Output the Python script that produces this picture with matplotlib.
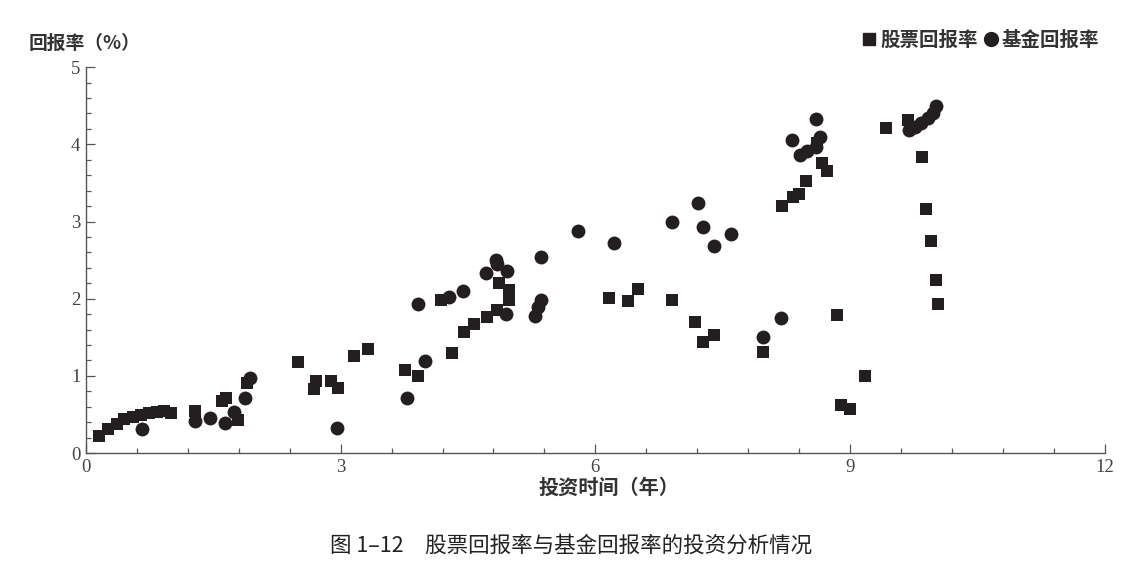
import matplotlib
matplotlib.use("Agg")
import matplotlib.pyplot as plt
from matplotlib.ticker import MultipleLocator
from matplotlib.lines import Line2D

plt.rcParams['font.family'] = ['Noto Sans CJK SC', 'DejaVu Sans']

# 股票回报率 (squares)
stock_x = [0.15, 0.26, 0.37, 0.45, 0.55, 0.65, 0.74, 0.84, 0.92, 1.0,
           1.28, 1.6, 1.65, 1.79, 1.9,
           2.5, 2.71, 2.69, 2.89, 2.97, 3.16, 3.32,
           3.76, 3.91, 4.31, 4.18, 4.45, 4.57, 4.72, 4.84, 4.86, 4.98, 4.98,
           6.16, 6.38, 6.5, 6.9, 7.17, 7.27, 7.4,
           7.97, 8.2, 8.33, 8.4, 8.48, 8.61, 8.67, 8.73,
           8.85, 8.9, 9.0, 9.18,
           9.43, 9.68, 9.85, 9.89, 9.95, 10.01, 10.04]
stock_y = [0.22, 0.31, 0.38, 0.44, 0.47, 0.49, 0.52, 0.53, 0.54, 0.52,
           0.54, 0.67, 0.71, 0.43, 0.91,
           1.18, 0.93, 0.83, 0.93, 0.84, 1.26, 1.35,
           1.08, 1.0, 1.29, 1.98, 1.57, 1.67, 1.76, 1.85, 2.2, 2.11, 1.98,
           2.01, 1.97, 2.12, 1.98, 1.7, 1.44, 1.53,
           1.31, 3.2, 3.32, 3.35, 3.52, 4.02, 3.76, 3.65,
           1.79, 0.62, 0.57, 1.0,
           4.21, 4.31, 3.83, 3.16, 2.75, 2.24, 1.93]

# 基金回报率 (circles)
fund_x = [0.66, 1.28, 1.46, 1.64, 1.74, 1.87, 1.93,
          2.96, 3.78, 3.99, 3.91, 4.28, 4.44,
          4.71, 4.83, 4.84, 4.96, 4.95, 5.29, 5.32, 5.36, 5.36,
          5.8, 6.22, 6.9, 7.21, 7.27, 7.4, 7.6,
          7.97, 8.19, 8.32, 8.41, 8.49, 8.6, 8.6, 8.65,
          9.7, 9.77, 9.84, 9.92, 9.98, 10.01]
fund_y = [0.31, 0.41, 0.45, 0.39, 0.53, 0.71, 0.97,
          0.32, 0.71, 1.19, 1.93, 2.02, 2.1,
          2.33, 2.5, 2.45, 2.36, 1.8, 1.77, 1.89, 1.98, 2.54,
          2.88, 2.72, 3.0, 3.24, 2.93, 2.68, 2.84,
          1.5, 1.75, 4.05, 3.86, 3.92, 3.97, 4.33, 4.09,
          4.18, 4.23, 4.28, 4.34, 4.4, 4.5]

x_ticks = [0, 3, 6, 9, 12]
y_ticks = [0, 1, 2, 3, 4, 5]

color = '#231f20'
serif = ['Liberation Serif', 'DejaVu Serif']

fig = plt.figure(figsize=(11.26, 5.79), dpi=100)
ax = fig.add_axes([0.0764, 0.2176, 0.9046, 0.6664])

ax.scatter(stock_x, stock_y, marker='s', s=78, color=color, linewidths=0, zorder=3)
ax.scatter(fund_x, fund_y, marker='o', s=100, color=color, linewidths=0, zorder=3)

ax.set_xlim(0, 12)
ax.set_ylim(0, 5)
ax.set_xticks(x_ticks)
ax.set_yticks(y_ticks)
ax.xaxis.set_minor_locator(MultipleLocator(0.6))
ax.yaxis.set_minor_locator(MultipleLocator(0.2))
ax.tick_params(which='both', direction='in', color='#555555', width=0.9)
ax.tick_params(which='major', length=6.5, labelsize=13.5, pad=4)
ax.tick_params(which='minor', length=3.5)
for lab in ax.get_xticklabels() + ax.get_yticklabels():
    lab.set_family(serif)
    lab.set_color('#444444')
for s in ['top', 'right']:
    ax.spines[s].set_visible(False)
for s in ['left', 'bottom']:
    ax.spines[s].set_color('#555555')
    ax.spines[s].set_linewidth(1.0)

fig.text(0.025, 0.925, '回报率（%）', fontsize=13.5, fontweight='bold', color='#333333', va='center', ha='left')
fig.text(0.541, 0.158, '投资时间（年）', fontsize=14.5, fontweight='bold', color='#333333', va='center', ha='center')

handles = [Line2D([], [], marker='s', linestyle='none', color=color, markersize=9),
           Line2D([], [], marker='o', linestyle='none', color=color, markersize=10)]
fig.legend(handles, ['股票回报率', '基金回报率'], loc='center right',
           bbox_to_anchor=(0.992, 0.93), ncol=2, frameon=False,
           handletextpad=0.15, columnspacing=0.3, handlelength=0.8,
           prop={'size': 14, 'weight': 'bold'}, labelcolor='#333333')

fig.text(0.507, 0.058, '图 1–12　股票回报率与基金回报率的投资分析情况', fontsize=15.5,
         color='#222222', va='center', ha='center')

fig.savefig('out.png', dpi=100)
